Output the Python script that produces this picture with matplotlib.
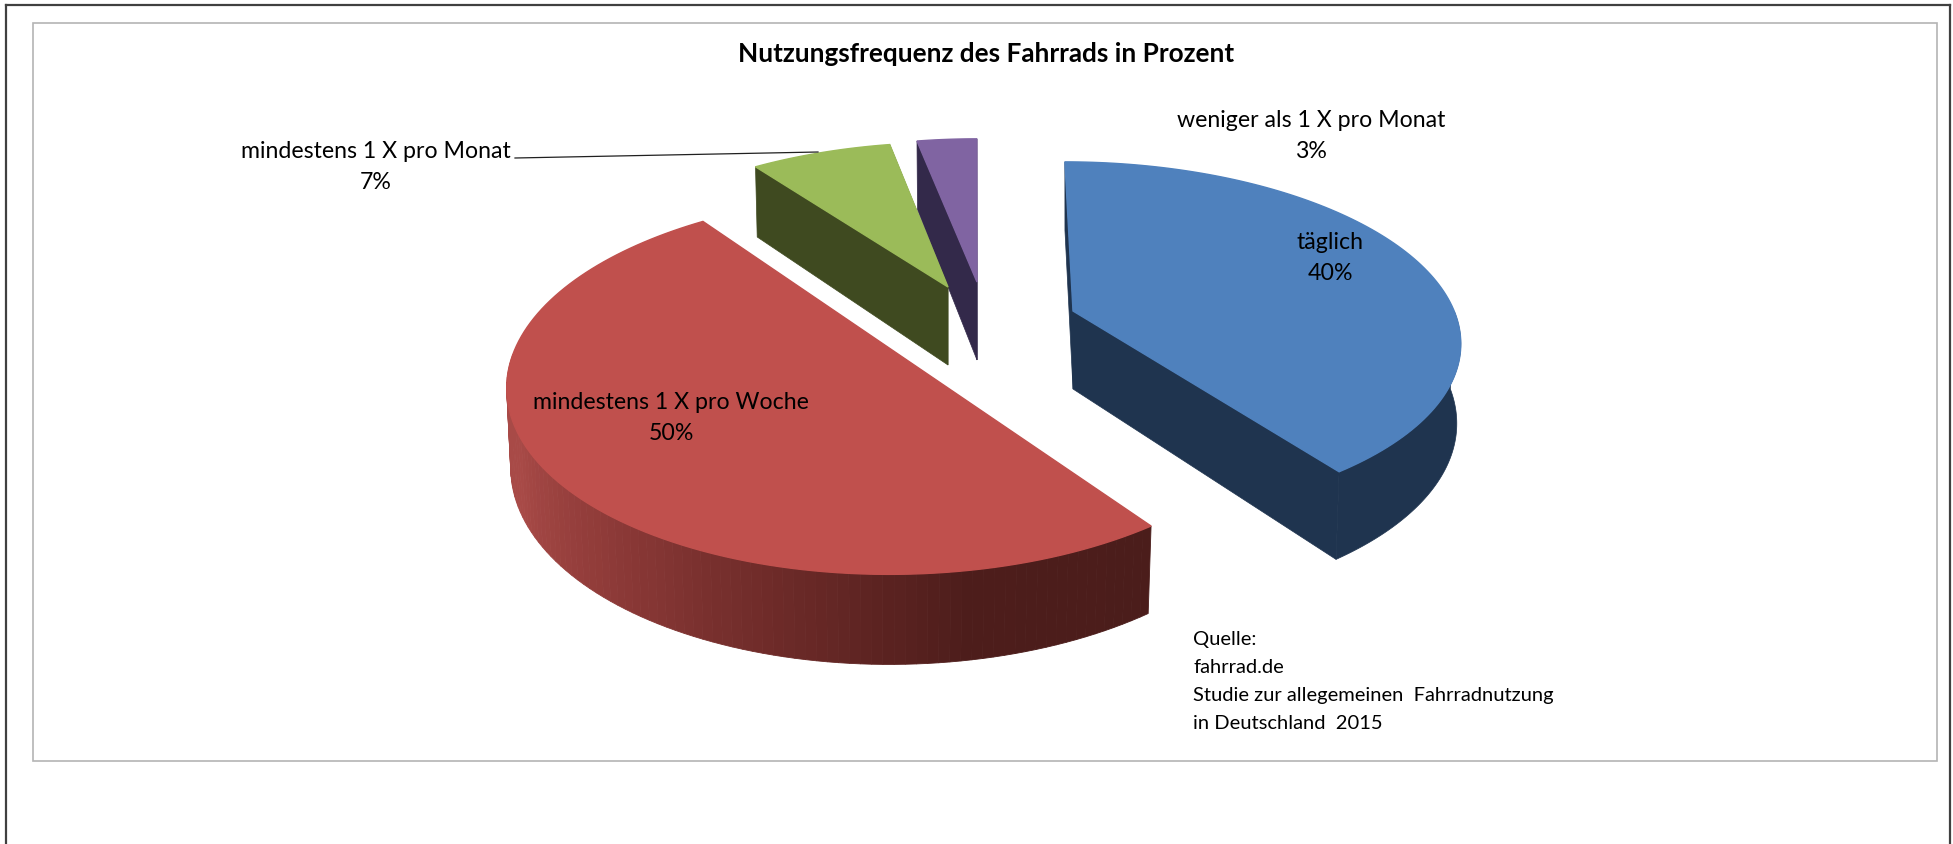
import numpy as np
import matplotlib
matplotlib.use("Agg")
import matplotlib.pyplot as plt
from matplotlib.colors import LinearSegmentedColormap
from matplotlib.patches import Polygon, Rectangle

categories = ["täglich", "mindestens 1 X pro Woche", "mindestens 1 X pro Monat", "weniger als 1 X pro Monat"]
values = [40, 50, 7, 3]
title = "Nutzungsfrequenz des Fahrrads in Prozent"
source_lines = ["Quelle:", "fahrrad.de", "Studie zur allegemeinen  Fahrradnutzung", "in Deutschland  2015"]

top_colors = ["#4F81BD", "#C0504D", "#9BBB59", "#8064A2"]
side_colors = ["#1F344F", None, "#3F4A20", "#33294A"]
red_side = LinearSegmentedColormap.from_list("red_side", ["#4B1D1B", "#4D1D1B", "#6E2B29", "#8E3A38", "#A84A47", "#A84A47"])

# apex of each exploded slice, in picture pixels, and its size
centers = [(1073, 311), (898, 354), (948, 287), (977, 282)]
scale_x = [0.99, 1.0, 0.97, 0.96]
scale_y = [1.0, 1.07, 0.97, 0.96]
label_pos = [(1330, 258), (671, 418), (376, 167), (1311, 136)]

RX, RY, K, H = 385, 173, 0.16, 78
VPX = 975
VP_PULL = 0.6
BOTTOM = 0.99


def project(i, theta, r=1.0, down=0.0):
    # theta in degrees clockwise from the back of the pie
    c = centers[i]
    t = np.radians(theta)
    u = r * np.sin(t)
    v = r * np.cos(t)
    w = 1 + K * v
    x = c[0] + (c[0] - VPX) * VP_PULL * (1 / w - 1) + scale_x[i] * RX * u / w
    y = c[1] - scale_y[i] * RY * v / w + down / w
    return np.column_stack([x, y])


fig = plt.figure(figsize=(19.53, 8.44), dpi=100)
ax = fig.add_axes([0, 0, 1, 1])
ax.set_xlim(0, 1953)
ax.set_ylim(844, 0)
ax.axis("off")
plt.rcParams["font.family"] = ["Lato", "DejaVu Sans"]

ax.plot([6, 6], [844, 5], color="#404040", lw=1.6)
ax.plot([6, 1950], [5, 5], color="#404040", lw=1.6)
ax.plot([1950, 1950], [5, 844], color="#404040", lw=1.6)
ax.add_patch(Rectangle((33, 23), 1904, 738, fc="white", ec="#B4B4B4", lw=1.2))

# angles of the slices out of the values
edges = 360 * np.cumsum([0] + values) / sum(values)


def draw_slice(i):
    a0, a1 = edges[i], edges[i + 1]
    side = side_colors[i]
    if side:
        for a in (a0, a1):
            top = project(i, np.array([a]))
            low = project(i, np.array([a]), BOTTOM, H)
            apex_top = project(i, np.array([0.0]), 0.0)
            apex_low = project(i, np.array([0.0]), 0.0, H)
            pts = np.vstack([apex_top, top, low, apex_low])
            ax.add_patch(Polygon(pts, fc=side, ec=side, lw=0.5))
    # rim strip, front part only
    s0, s1 = max(a0, 90), min(a1, 270)
    if s1 > s0:
        th = np.linspace(s0, s1, 90)
        upper = project(i, th)
        lower = project(i, th, BOTTOM, H)
        if side:
            pts = np.vstack([upper, lower[::-1]])
            ax.add_patch(Polygon(pts, fc=side, ec=side, lw=0.5))
        else:
            for j in range(len(th) - 1):
                pts = np.vstack([upper[j:j + 2], lower[j:j + 2][::-1]])
                col = red_side((th[j] - s0) / (s1 - s0))
                ax.add_patch(Polygon(pts, fc=col, ec=col, lw=0.6))
    th = np.linspace(a0, a1, 120)
    rim = project(i, th)
    pts = np.vstack([project(i, np.array([0.0]), 0.0), rim])
    ax.add_patch(Polygon(pts, fc=top_colors[i], ec=top_colors[i], lw=1.0))


for i in [3, 0, 2, 1]:
    draw_slice(i)

ax.plot([515, 818], [158, 152], color="#202020", lw=0.9)

ax.text(986, 54, title, ha="center", va="center", fontsize=18.8, fontweight="bold", color="black")
for name, val, pos in zip(categories, values, label_pos):
    ax.text(pos[0], pos[1], f"{name}\n{val}%", ha="center", va="center", fontsize=16.7,
            color="black", linespacing=1.6)
for j, line in enumerate(source_lines):
    ax.text(1193, 640 + 27.7 * j, line, ha="left", va="center", fontsize=14.5, color="black")

fig.savefig("out.png", dpi=100)
